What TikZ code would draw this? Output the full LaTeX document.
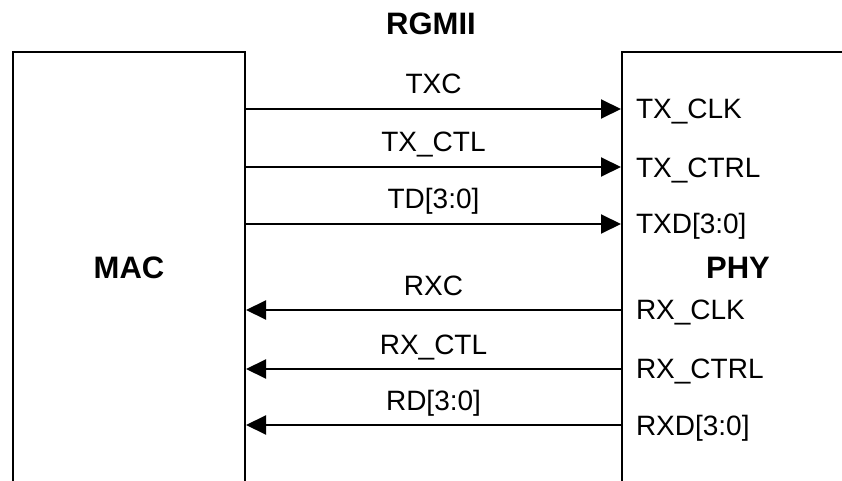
\documentclass[tikz,border=0pt]{standalone}
\usepackage{fontspec}
\setmainfont{Liberation Sans}
\usetikzlibrary{arrows.meta,positioning}
\tikzset{every picture/.style={line width=1pt}}
\tikzset{
  block/.style={draw, minimum width=116pt, minimum height=216pt, inner sep=0pt,
    font=\fontsize{15.5}{18}\selectfont\bfseries},
  pinlabel/.style={anchor=west, inner sep=0pt, text height=10pt, text depth=0pt,
    font=\fontsize{14}{17}\selectfont},
  sig/.style={-{Triangle[length=10pt,width=9.5pt]}},
  siglabel/.style={above=7pt, inner sep=0pt, text height=10pt, text depth=0pt,
    font=\fontsize{14}{17}\selectfont}
}

\begin{document}
\begin{tikzpicture}[x=0.5pt,y=0.5pt,yscale=-1,xscale=1]
\useasboundingbox (0,0) rectangle (842,481);
\clip (0,0) rectangle (842,481);

% Title
\node[inner sep=0pt, text height=11pt, text depth=0pt, font=\fontsize{15.5}{18}\selectfont\bfseries] (title) at (431,24) {RGMII};

%Shape: Rectangle (open at the bottom of the page)
\node[block] (mac) at (129,268) {MAC};
%Shape: Rectangle
\node[block] (phy) at (738,268) {PHY};

% Text Node
\node[pinlabel] (txclk) at (635,109) {TX\_CLK};
% Text Node
\node[pinlabel] (txctrl) at (635,167) {TX\_CTRL};
% Text Node
\node[pinlabel] (txd) at (635,224) {TXD[3:0]};
% Text Node
\node[pinlabel] (rxclk) at (635,310) {RX\_CLK};
% Text Node
\node[pinlabel] (rxctrl) at (635,369) {RX\_CTRL};
% Text Node
\node[pinlabel] (rxd) at (635,425) {RXD[3:0]};

%Straight Lines
\draw[sig] (mac.east |- txclk) -- node[siglabel] {TXC} (phy.west |- txclk);
\draw[sig] (mac.east |- txctrl) -- node[siglabel] {TX\_CTL} (phy.west |- txctrl);
\draw[sig] (mac.east |- txd) -- node[siglabel] {TD[3:0]} (phy.west |- txd);
%Straight Lines
\draw[sig] (phy.west |- rxclk) -- node[siglabel] {RXC} (mac.east |- rxclk);
\draw[sig] (phy.west |- rxctrl) -- node[siglabel] {RX\_CTL} (mac.east |- rxctrl);
\draw[sig] (phy.west |- rxd) -- node[siglabel] {RD[3:0]} (mac.east |- rxd);

\end{tikzpicture}
\end{document}
